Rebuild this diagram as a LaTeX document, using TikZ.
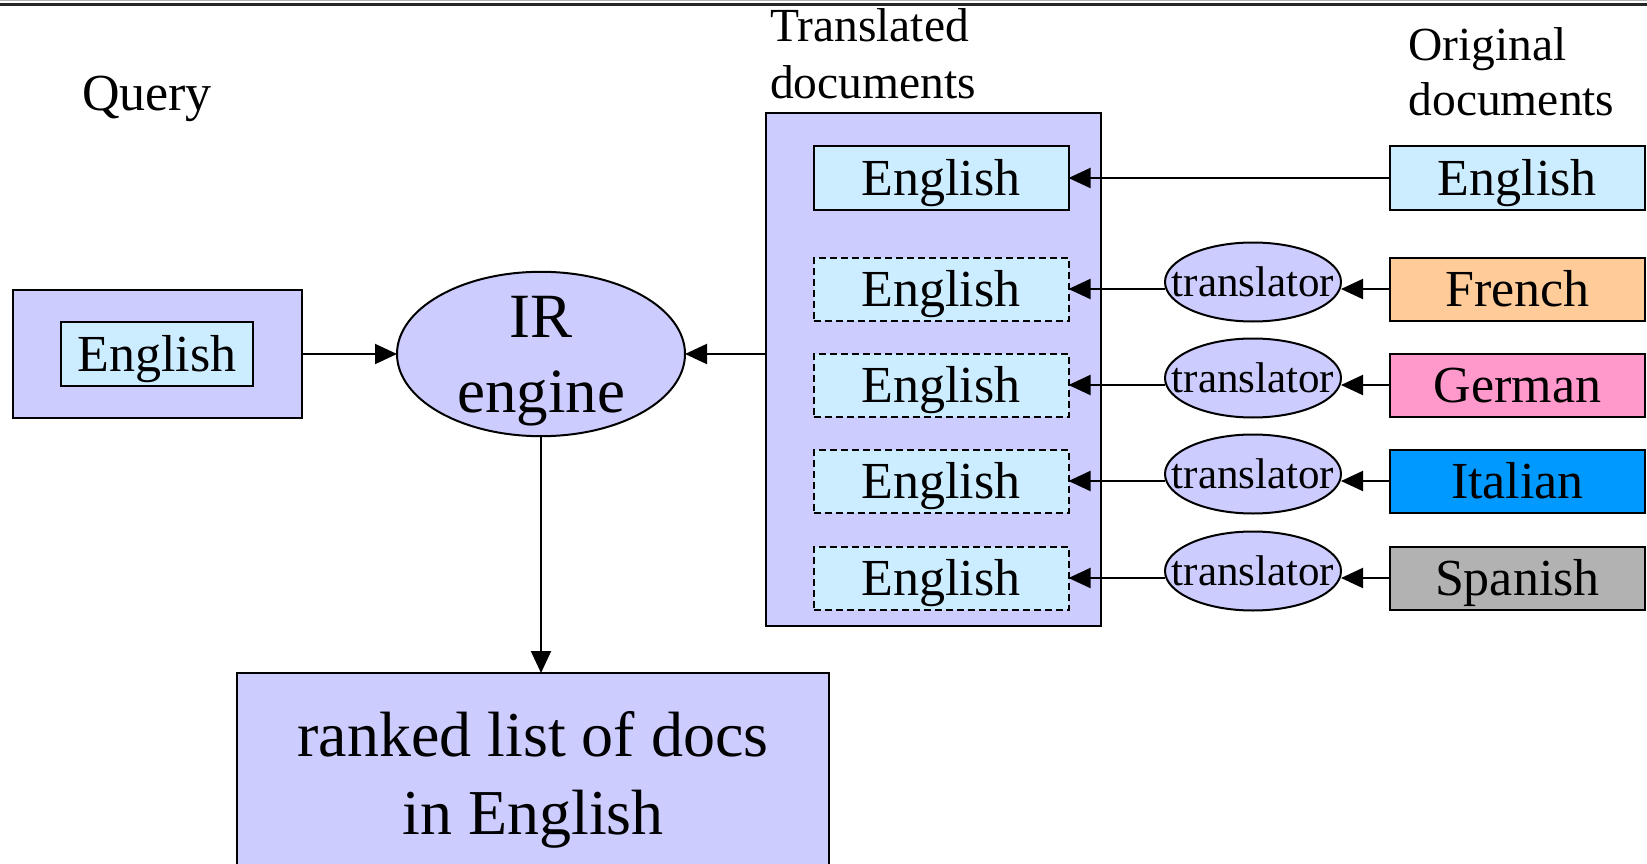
\documentclass[tikz,border=0pt]{standalone}
\usepackage{fontspec}
\setmainfont{Liberation Serif}
\usetikzlibrary{arrows.meta,shapes.geometric}
\definecolor{lav}{HTML}{CCCCFF}
\definecolor{paleblue}{HTML}{CCECFF}
\definecolor{frenchc}{HTML}{FFCC99}
\definecolor{germanc}{HTML}{FF99CC}
\definecolor{italianc}{HTML}{0099FF}
\definecolor{spanishc}{HTML}{B2B2B2}
\begin{document}
\begin{tikzpicture}[x=1pt,y=-1pt,
  every node/.style={inner sep=0pt,outer sep=0pt},
  conn/.style={line width=2pt,-{Triangle[length=22pt,width=20pt]}},
  panel/.style={draw,line width=2pt,fill=lav},
  docbox/.style={draw,line width=2pt,minimum width=255pt,minimum height=63pt,
    text height=46pt,text depth=11pt,font=\fontsize{52}{60}\selectfont},
  transbox/.style={docbox,fill=paleblue,dash pattern=on 7pt off 4pt},
  trnode/.style={ellipse,draw,line width=2pt,fill=lav,minimum width=176pt,
    minimum height=79pt,font=\fontsize{43}{50}\selectfont},
  caption/.style={anchor=base west,font=\fontsize{47.5}{55}\selectfont}
]
\useasboundingbox (0,0) rectangle (1647,864);
% rules along the top edge
\fill[gray!60] (0,0) rectangle (1647,1.2);
\fill[black!85] (0,2.6) rectangle (1647,5.6);

% query side
\node[anchor=base west,font=\fontsize{52}{60}\selectfont] (qlabel) at (82,111) {Query};
\node[panel,minimum width=289pt,minimum height=128pt] (qpanel) at (157,354) {};
\node[docbox,fill=paleblue,minimum width=192pt,minimum height=64pt] (qdoc) at (157,353.5) {English};

% retrieval engine and result list
\node[ellipse,draw,line width=2pt,fill=lav,minimum width=288pt,minimum height=160pt,
  align=center,text depth=0pt,font=\fontsize{63}{75}\selectfont] (ir) at (541,354) {IR\\engine};
\node[panel,minimum width=592pt,minimum height=200pt,align=center,text depth=0pt,
  font=\fontsize{64}{78}\selectfont] (ranked) at (533,773) {ranked list of docs\\in English};

% translated collection
\node[caption] (tlab1) at (770,42) {Translated};
\node[caption] (tlab2) at (770,99) {documents};
\node[panel,minimum width=335pt,minimum height=513pt] (tpanel) at (933.5,369.5) {};
\node[docbox,fill=paleblue] (te1) at (941,178) {English};
\node[transbox] (te2) at (941,289) {English};
\node[transbox] (te3) at (941,385) {English};
\node[transbox] (te4) at (941,481) {English};
\node[transbox] (te5) at (941,578) {English};

% translators (label kept out of the ellipse size)
\node[trnode] (tr2) at (1253,282) {\makebox[0pt]{translator}};
\node[trnode] (tr3) at (1253,378) {\makebox[0pt]{translator}};
\node[trnode] (tr4) at (1253,474) {\makebox[0pt]{translator}};
\node[trnode] (tr5) at (1253,571) {\makebox[0pt]{translator}};

% original collection
\node[caption] (olab1) at (1408.6,61) {Original};
\node[caption] (olab2) at (1408.6,115.5) {documents};
\node[docbox,fill=paleblue] (oe1) at (1517.4,178) {English};
\node[docbox,fill=frenchc] (oe2) at (1517.4,289) {French};
\node[docbox,fill=germanc] (oe3) at (1517.4,385) {German};
\node[docbox,fill=italianc] (oe4) at (1517.4,481) {Italian};
\node[docbox,fill=spanishc] (oe5) at (1517.4,578) {Spanish};

% connectors
\draw[conn] (qpanel.east) -- (ir.west);
\draw[conn] (ir.east -| tpanel.west) -- (ir.east);
\draw[conn] (ir.south) -- (ir.south |- ranked.north);
\draw[conn] (oe1.west) -- (te1.east);
\foreach \i in {2,3,4,5}{
  \draw[conn] (oe\i.west) -- (oe\i.west -| tr\i.east);
  \draw[conn] (te\i.east -| tr\i.west) -- (te\i.east);
}
\end{tikzpicture}
\end{document}
